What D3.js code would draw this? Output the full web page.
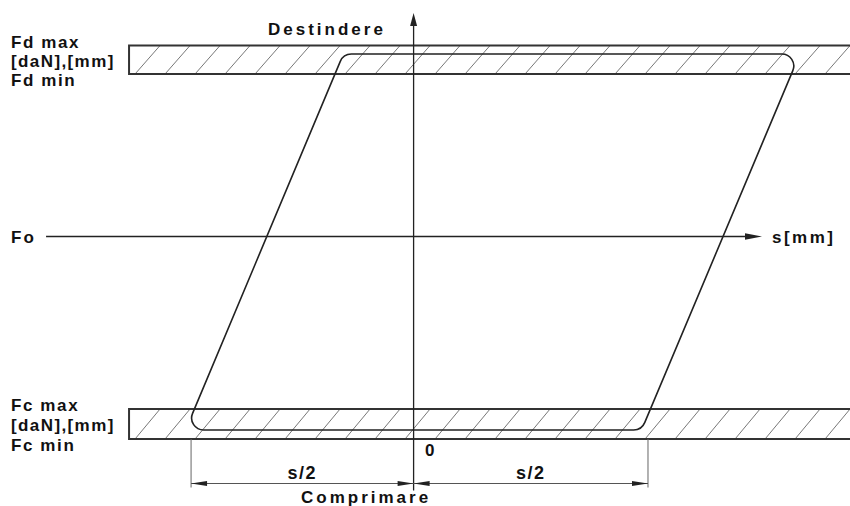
<!DOCTYPE html>
<html>
<head>
<meta charset="utf-8">
<script src="https://cdn.jsdelivr.net/npm/d3@7"></script>
<style>
  body { margin: 0; background: #fff; }
  svg { display: block; }
  text { font-family: "Liberation Sans", Arial, sans-serif; font-weight: bold; fill: #111; }
</style>
</head>
<body>
<div id="vis"></div>
<script>
// force levels (schematic units, Fo = 0)
var bandNames = ["Fd", "Fc"];
var bandMax = [191, -172.5];
var bandMin = [162.5, -202.5];

// loop corners: bottom-left, bottom-right, top-right, top-left
var loopS = [-50, 50, 84.7, -15.4];
var loopF = [-193.5, -193.5, 182.5, 182.5];

// dimension marks along s
var dimS = [-48.8, 0, 51.4];
var dimLabels = ["s/2", "s/2"];

var bandLeftS = -62.4;
var axisS = [-80.6, 76.4];
var axisF = [223.5, -254];

var width = 850, height = 506;

var x = d3.scaleLinear().domain([-90.7, 95.7]).range([0, width]);
var y = d3.scaleLinear().domain([-200, 200]).range([436.5, 36.5]);

var svg = d3.select("#vis").append("svg")
    .attr("width", width)
    .attr("height", height);

var ink = "#222";

////////// bands //////////
bandNames.forEach(function(name, i) {
    var top = y(bandMax[i]), bot = y(bandMin[i]);
    var x0 = x(bandLeftS);

    svg.append("clipPath")
        .attr("id", "clip" + i)
        .append("rect")
        .attr("x", x0).attr("y", top)
        .attr("width", width - x0).attr("height", bot - top);

    // hatching
    var hatch = d3.range(x0 - 24, width + 30, 30);
    svg.append("g")
        .attr("clip-path", "url(#clip" + i + ")")
        .selectAll("line")
        .data(hatch)
        .enter()
        .append("line")
        .attr("x1", function(d) { return d; })
        .attr("y1", bot)
        .attr("x2", function(d) { return d + 25; })
        .attr("y2", top)
        .attr("stroke", "#777")
        .attr("stroke-width", 1);

    svg.append("path")
        .attr("d", "M" + width + "," + top + "H" + x0 + "V" + bot + "H" + width)
        .attr("fill", "none")
        .attr("stroke", "#333")
        .attr("stroke-width", 2);

    // labels on the left
    var lab = svg.append("g").attr("class", "band-label");
    lab.append("text").attr("x", 11).attr("y", top + 2).attr("letter-spacing", 1.6)
        .style("font-size", "17px").text(name + " max");
    lab.append("text").attr("x", 11).attr("y", (top + bot) / 2 + 7).attr("letter-spacing", 1.4)
        .style("font-size", "17px").text("[daN],[mm]");
    lab.append("text").attr("x", 11).attr("y", bot + 12).attr("letter-spacing", 1.6)
        .style("font-size", "17px").text(name + " min");
});

////////// axes //////////
var x0axis = x(0), y0axis = y(0);

svg.append("line")
    .attr("x1", x(axisS[0])).attr("x2", x(axisS[1]) - 12)
    .attr("y1", y0axis).attr("y2", y0axis)
    .attr("stroke", ink).attr("stroke-width", 1.3);
svg.append("path")
    .attr("d", "M" + x(axisS[1]) + "," + y0axis + "l-17,-3.2v6.4z")
    .attr("fill", ink);

svg.append("line")
    .attr("x1", x0axis).attr("x2", x0axis)
    .attr("y1", y(axisF[0]) + 10).attr("y2", y(axisF[1]))
    .attr("stroke", ink).attr("stroke-width", 1.3);
svg.append("path")
    .attr("d", "M" + x0axis + "," + y(axisF[0]) + "l-3.5,13h7z")
    .attr("fill", ink);

////////// loop //////////
var pts = loopS.map(function(s, i) { return [x(s), y(loopF[i])]; });
var r = 12;
var p = d3.path();
var mid = [(pts[0][0] + pts[1][0]) / 2, pts[0][1]];
p.moveTo(mid[0], mid[1]);
for (var k = 1; k <= 4; k++) {
    var c = pts[k % 4], n = pts[(k + 1) % 4];
    p.arcTo(c[0], c[1], n[0], n[1], r);
}
p.closePath();
svg.append("path")
    .attr("d", p.toString())
    .attr("fill", "none")
    .attr("stroke", ink)
    .attr("stroke-width", 1.6);

////////// dimension //////////
var dimY = 483.5;
var extTop = y(bandMin[1]);
[dimS[0], dimS[2]].forEach(function(s) {
    svg.append("line")
        .attr("x1", x(s)).attr("x2", x(s))
        .attr("y1", extTop).attr("y2", dimY + 4)
        .attr("stroke", "#666").attr("stroke-width", 1);
});
svg.append("line")
    .attr("x1", x(dimS[0])).attr("x2", x(dimS[2]))
    .attr("y1", dimY).attr("y2", dimY)
    .attr("stroke", "#555").attr("stroke-width", 1);

function arrow(tip, dir) {
    svg.append("path")
        .attr("d", "M" + tip + "," + dimY + "l" + (dir * 16) + ",-2.5v5z")
        .attr("fill", ink);
}
arrow(x(dimS[0]), 1);
arrow(x(dimS[1]), -1);
arrow(x(dimS[1]), 1);
arrow(x(dimS[2]), -1);

dimLabels.forEach(function(t, i) {
    svg.append("text")
        .attr("x", (x(dimS[i]) + x(dimS[i + 1])) / 2)
        .attr("y", 479)
        .attr("text-anchor", "middle")
        .attr("letter-spacing", 1.5)
        .style("font-size", "18px")
        .text(t);
});

////////// titles //////////
svg.append("text")
    .attr("x", 268).attr("y", 35)
    .attr("letter-spacing", 3)
    .style("font-size", "17px")
    .text("Destindere");

svg.append("text")
    .attr("x", 301).attr("y", 503)
    .attr("letter-spacing", 3)
    .style("font-size", "17px")
    .text("Comprimare");

svg.append("text")
    .attr("x", 11).attr("y", y0axis + 6)
    .attr("letter-spacing", 2)
    .style("font-size", "17px")
    .text("Fo");

svg.append("text")
    .attr("x", 772).attr("y", y0axis + 6)
    .attr("letter-spacing", 2.5)
    .style("font-size", "17px")
    .text("s[mm]");

svg.append("text")
    .attr("x", 425).attr("y", 456)
    .style("font-size", "17px")
    .text("0");
</script>
</body>
</html>
